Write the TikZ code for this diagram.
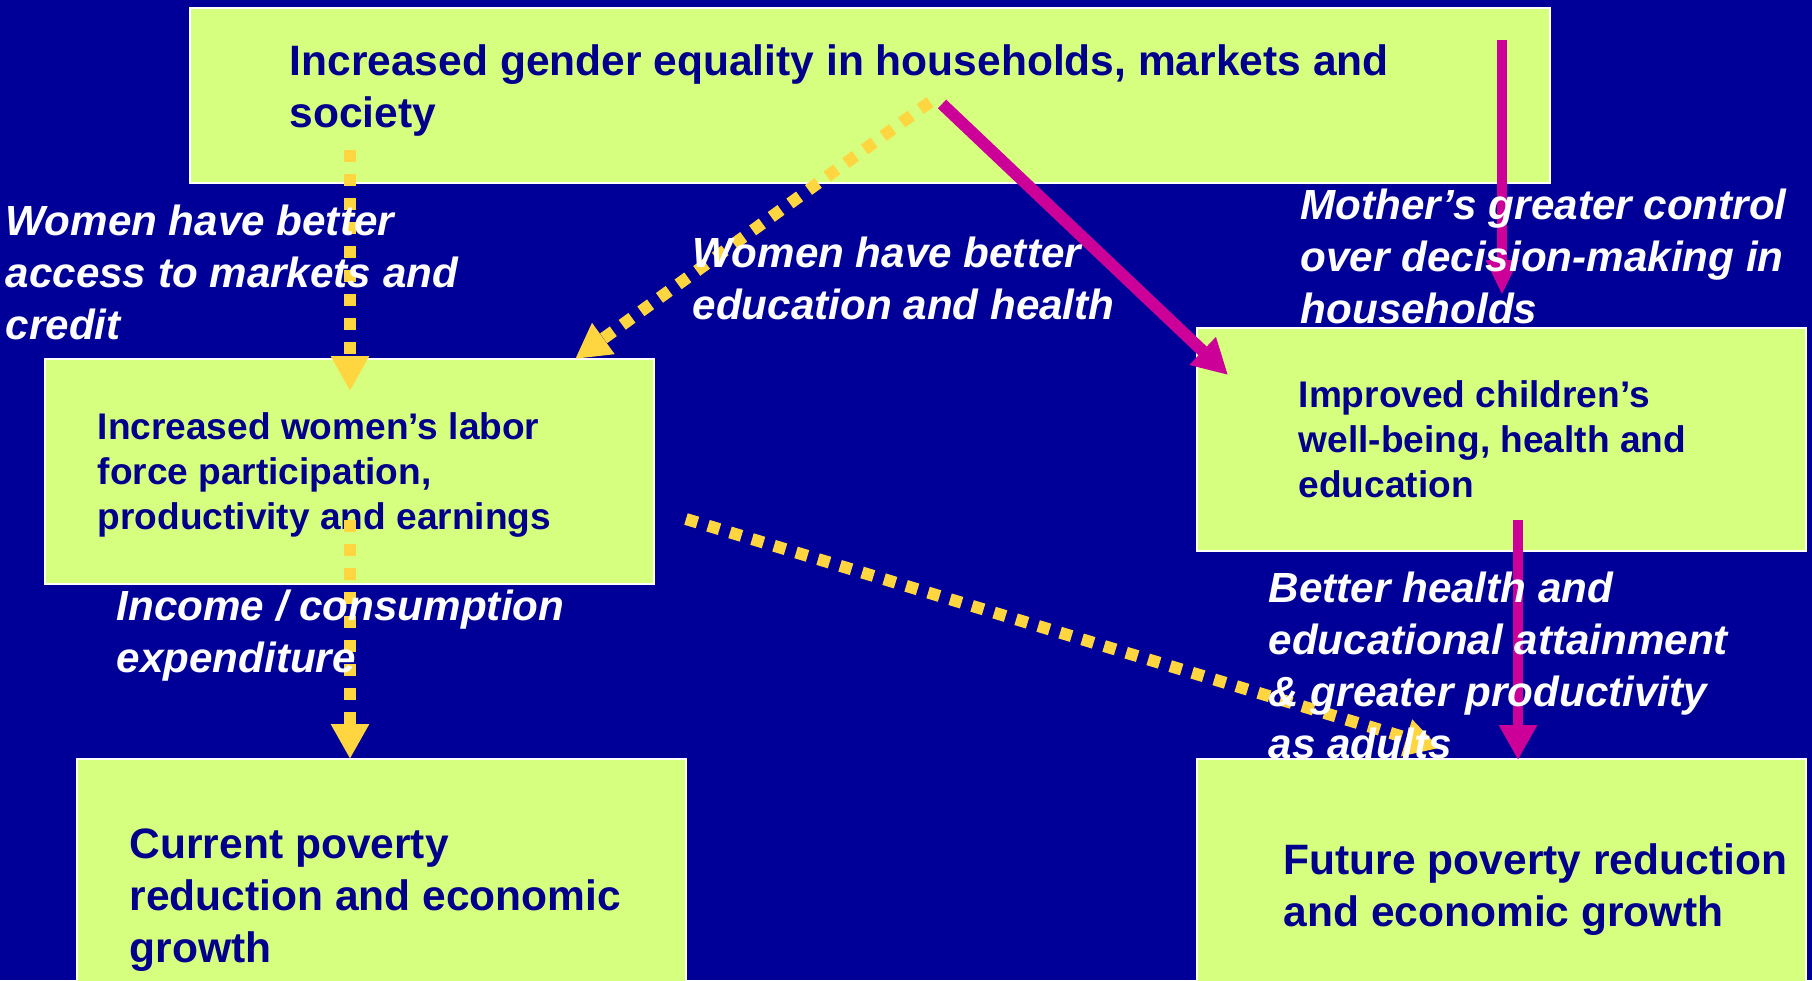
\documentclass[tikz,border=0pt]{standalone}
\usepackage{fontspec}
\setmainfont{Liberation Sans}
\usetikzlibrary{arrows.meta}
\definecolor{bgblue}{RGB}{0,0,153}
\definecolor{boxgreen}{RGB}{214,255,128}
\definecolor{inkblue}{RGB}{0,0,140}
\definecolor{ylw}{RGB}{255,214,64}
\definecolor{mgnt}{RGB}{204,0,153}
\tikzset{>={Triangle[width=3.6mm,length=3.5mm]},
  box/.style={draw=white,line width=0.2mm,fill=boxgreen,inner sep=0pt},
  boxtxt/.style={text=inkblue,font=\bfseries\fontsize{12.1}{14.8}\selectfont,align=left,anchor=west,inner sep=0pt},
  smalltxt/.style={boxtxt,font=\bfseries\fontsize{10.55}{12.8}\selectfont},
  linktxt/.style={text=white,font=\bfseries\itshape\fontsize{12}{14.8}\selectfont,align=left,anchor=west,inner sep=0pt},
  ylink/.style={ylw,line width=1.2mm,dash pattern=on 1.2mm off 1.2mm,->},
  mlink/.style={mgnt,line width=1mm,->}}

\begin{document}
\begin{tikzpicture}[x=0.1mm,y=-0.1mm]
  \useasboundingbox (0,0) rectangle (1812,980);
  \fill[bgblue] (0,0) rectangle (1812,980);

  % boxes
  \node[box,minimum width=13.60cm,minimum height=1.75cm] (goal) at (870,95.5) {};
  \node[box,minimum width=6.09cm,minimum height=2.25cm] (labor) at (349.5,471.5) {};
  \node[box,minimum width=6.09cm,minimum height=2.23cm] (child) at (1501.5,439.5) {};
  \node[box,minimum width=6.09cm,minimum height=2.45cm] (nowpov) at (381.5,881.5) {};
  \node[box,minimum width=6.09cm,minimum height=2.45cm] (futpov) at (1501.5,881.5) {};

  \node[boxtxt] (goaltxt) at (289,90.5) {Increased gender equality in households, markets and\\society};
  \node[smalltxt] (labortxt) at (97,475) {Increased women’s labor\\force participation,\\productivity and earnings};
  \node[smalltxt] (childtxt) at (1298,439) {Improved children’s\\well-being, health and\\education};
  \node[boxtxt] (nowpovtxt) at (129,900) {Current poverty\\reduction and economic\\growth};
  \node[boxtxt] (futpovtxt) at (1283,890) {Future poverty reduction\\and economic growth};

  % arrow ends
  \coordinate (g1) at (350,150);  \coordinate (l1) at (350,391);
  \coordinate (l2) at (350,520);  \coordinate (n1) at (350,759);
  \coordinate (g2) at (930,102);  \coordinate (l3) at (575,359);
  \coordinate (l4) at (686,519);  \coordinate (f1) at (1440,748);
  \coordinate (g3) at (942,104);  \coordinate (c1) at (1228,375);
  \coordinate (g4) at (1502,40);  \coordinate (c2) at (1502,295);
  \coordinate (c3) at (1518,520); \coordinate (f2) at (1518,760);

  \draw[ylink] (g1) -- (l1);
  \draw[ylink] (l2) -- (n1);
  \draw[ylink,dash pattern=on 1.2mm off 1.1mm] (g2) -- (l3);
  \draw[ylink,dash pattern=on 1.2mm off 1.1mm] (l4) -- (f1);
  \draw[mlink,line width=1.2mm] (g3) -- (c1);
  \draw[mlink,>={Triangle[width=3mm,length=3.5mm]}] (g4) -- (c2);
  \draw[mlink] (c3) -- (f2);

  % link labels
  \node[linktxt] (access) at (5,272) {Women have better\\access to markets and\\credit};
  \node[linktxt] (school) at (692,278) {Women have better\\education and health};
  \node[linktxt] (mother) at (1300,256) {Mother’s greater control\\over decision-making in\\households};
  \node[linktxt] (income) at (116,636) {Income / consumption\\expenditure};
  \node[linktxt] (adults) at (1268,665) {Better health and\\educational attainment\\\& greater productivity\\as adults};
\end{tikzpicture}
\end{document}
